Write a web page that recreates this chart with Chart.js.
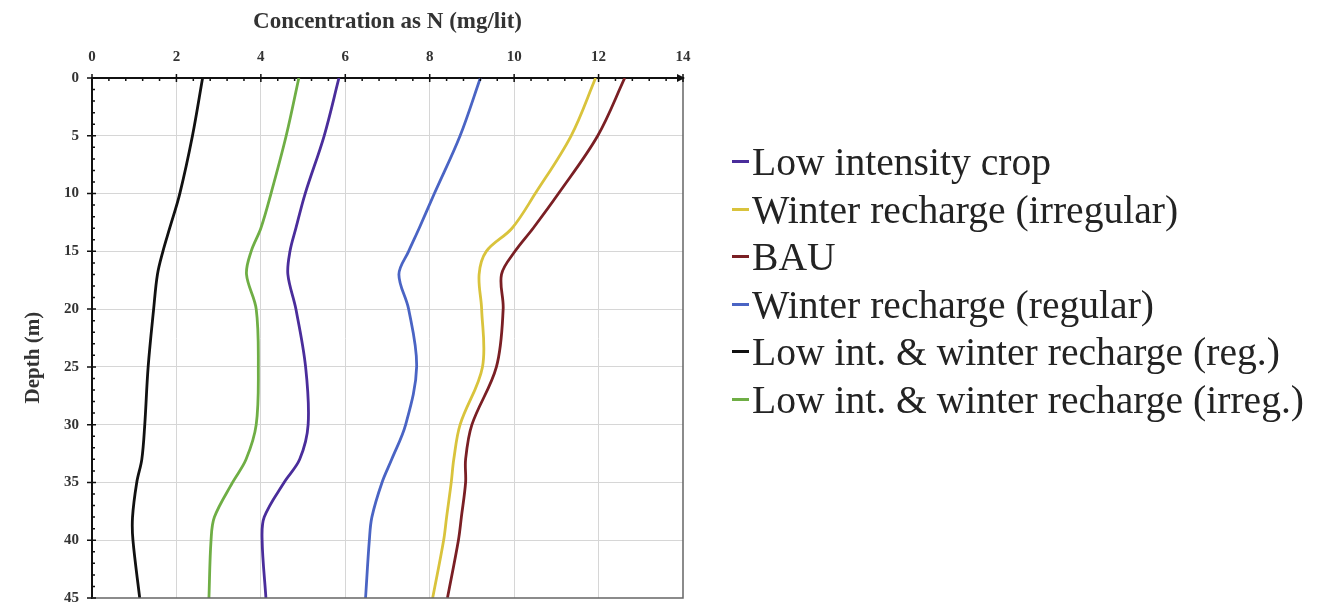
<!DOCTYPE html>
<html>
<head>
<meta charset="utf-8">
<script src="https://cdn.jsdelivr.net/npm/chart.js@4.4.1/dist/chart.umd.min.js"></script>
<style>
  html, body { margin: 0; padding: 0; background: #fff; overflow: hidden; }
  #wrap { position: absolute; left: 0; top: 0; width: 1322px; height: 620px; }
  #legend { position: absolute; left: 0; top: 0; font-family: 'Liberation Serif', 'Times New Roman', serif; font-size: 39.6px; color: #232323; }
  .row { position: absolute; left: 752px; height: 48px; line-height: 48px; white-space: nowrap; }
  .mark { position: absolute; left: -20px; top: 22px; width: 17px; height: 3px; }
</style>
</head>
<body>
<div id="wrap"><canvas id="chart"></canvas></div>
<div id="legend"></div>
<script>
// depth (m) at which the curves were read
const depths = [0, 5, 10, 13, 15, 17, 20, 25, 30, 33, 35, 38, 40, 45];

// concentration as N (mg/lit)
const lowIntensity = [5.85, 5.50, 5.05, 4.83, 4.69, 4.64, 4.83, 5.06, 5.12, 4.92, 4.55, 4.08, 4.03, 4.12];
const winterIrregular = [11.93, 11.35, 10.50, 9.95, 9.34, 9.17, 9.23, 9.25, 8.72, 8.57, 8.51, 8.40, 8.33, 8.07];
const bau = [12.62, 11.98, 11.05, 10.45, 10.02, 9.70, 9.74, 9.58, 9.00, 8.85, 8.85, 8.75, 8.68, 8.42];
const winterRegular = [9.20, 8.72, 8.11, 7.75, 7.50, 7.27, 7.50, 7.69, 7.43, 7.10, 6.87, 6.63, 6.57, 6.48];
const lowIntReg = [2.62, 2.38, 2.08, 1.84, 1.68, 1.55, 1.46, 1.33, 1.25, 1.18, 1.06, 0.96, 0.97, 1.13];
const lowIntIrreg = [4.90, 4.60, 4.24, 4.00, 3.77, 3.66, 3.89, 3.94, 3.89, 3.65, 3.33, 2.90, 2.82, 2.77];

const seriesLabels = [
    'Low intensity crop',
    'Winter recharge (irregular)',
    'BAU',
    'Winter recharge (regular)',
    'Low int. & winter recharge (reg.)',
    'Low int. & winter recharge (irreg.)'
];
const seriesValues = [lowIntensity, winterIrregular, bau, winterRegular, lowIntReg, lowIntIrreg];
const seriesColors = ['#4a2d9b', '#d9c33c', '#7a1f24', '#4a64c4', '#111111', '#6fae45'];

const xTicks = [0, 2, 4, 6, 8, 10, 12, 14];
const yTicks = [0, 5, 10, 15, 20, 25, 30, 35, 40, 45];
const yTitle = 'Depth (m)';

const serif = "'Liberation Serif', 'Times New Roman', serif";

// axis ticks (major crosses the axis, minor on the inner side), arrow, frame and depth title
const axisDecor = {
    id: 'axisDecor',
    afterDraw(chart) {
        const { ctx, chartArea: a, scales: { x, y } } = chart;
        ctx.save();
        ctx.strokeStyle = '#666';
        ctx.lineWidth = 1.5;
        ctx.beginPath();
        ctx.moveTo(a.right, a.top);
        ctx.lineTo(a.right, a.bottom);
        ctx.lineTo(a.left, a.bottom);
        ctx.stroke();

        ctx.strokeStyle = '#111';
        ctx.lineWidth = 1.5;
        ctx.beginPath();
        for (let i = 0; i <= 35; i++) {
            const px = x.getPixelForValue(i * 0.4);
            if (i % 5 === 0) { ctx.moveTo(px, a.top - 4); ctx.lineTo(px, a.top + 4); }
            else { ctx.moveTo(px, a.top); ctx.lineTo(px, a.top + 3); }
        }
        for (let i = 0; i <= 45; i++) {
            const py = y.getPixelForValue(i);
            if (i % 5 === 0) { ctx.moveTo(a.left - 5, py); ctx.lineTo(a.left + 4, py); }
            else { ctx.moveTo(a.left, py); ctx.lineTo(a.left + 3, py); }
        }
        ctx.stroke();

        ctx.fillStyle = '#111';
        ctx.beginPath();
        ctx.moveTo(a.right + 2, a.top);
        ctx.lineTo(a.right - 6, a.top - 4);
        ctx.lineTo(a.right - 6, a.top + 4);
        ctx.closePath();
        ctx.fill();

        // depth title sits a little below the axis middle in the original
        ctx.translate(34, y.getPixelForValue(24.2));
        ctx.rotate(-Math.PI / 2);
        ctx.fillStyle = '#333';
        ctx.font = 'bold 21px ' + serif;
        ctx.textAlign = 'center';
        ctx.textBaseline = 'middle';
        ctx.fillText(yTitle, 0, 0);
        ctx.restore();
    }
};

const ctx = document.getElementById('chart').getContext('2d');
new Chart(ctx, {
    type: 'scatter',
    data: {
        datasets: seriesLabels.map((label, i) => ({
            label: label,
            data: depths.map((d, j) => ({ x: seriesValues[i][j], y: d })),
            showLine: true,
            borderColor: seriesColors[i],
            backgroundColor: seriesColors[i],
            borderWidth: 2.8,
            tension: 0.35,
            pointRadius: 0,
            pointHoverRadius: 0
        }))
    },
    options: {
        responsive: true,
        maintainAspectRatio: false,
        animation: false,
        layout: { padding: { left: 0, top: 0, right: 639, bottom: 22 } },
        plugins: {
            legend: { display: false },
            tooltip: { enabled: false }
        },
        scales: {
            x: {
                type: 'linear',
                position: 'top',
                min: 0,
                max: 14,
                afterBuildTicks: (scale) => { scale.ticks = xTicks.map(v => ({ value: v })); },
                afterFit: (scale) => { scale.height = 78; },
                border: { display: true, color: '#111', width: 2 },
                grid: {
                    drawTicks: false,
                    lineWidth: 1,
                    color: (c) => (c.tick && (c.tick.value === 0 || c.tick.value === 14)) ? 'rgba(0,0,0,0)' : '#d6d6d6'
                },
                ticks: {
                    padding: 12,
                    color: '#333',
                    font: { family: serif, size: 15, weight: 'bold' }
                },
                title: {
                    display: true,
                    text: 'Concentration as N (mg/lit)',
                    color: '#333',
                    padding: { top: 8, bottom: 0 },
                    font: { family: serif, size: 23, weight: 'bold' }
                }
            },
            y: {
                type: 'linear',
                reverse: true,
                min: 0,
                max: 45,
                afterBuildTicks: (scale) => { scale.ticks = yTicks.map(v => ({ value: v })); },
                afterFit: (scale) => { scale.width = 92; },
                border: { display: true, color: '#111', width: 2 },
                grid: {
                    drawTicks: false,
                    lineWidth: 1,
                    color: (c) => (c.tick && (c.tick.value === 0 || c.tick.value === 45)) ? 'rgba(0,0,0,0)' : '#d6d6d6'
                },
                ticks: {
                    padding: 13,
                    color: '#333',
                    font: { family: serif, size: 15, weight: 'bold' }
                },
                title: { display: false }
            }
        }
    },
    plugins: [axisDecor]
});

// legend on the right, same order as the datasets
const legend = document.getElementById('legend');
seriesLabels.forEach((label, i) => {
    const row = document.createElement('div');
    row.className = 'row';
    row.style.top = (138 + i * 47.6) + 'px';
    const mark = document.createElement('span');
    mark.className = 'mark';
    mark.style.background = seriesColors[i];
    row.appendChild(mark);
    row.appendChild(document.createTextNode(label));
    legend.appendChild(row);
});
</script>
</body>
</html>
